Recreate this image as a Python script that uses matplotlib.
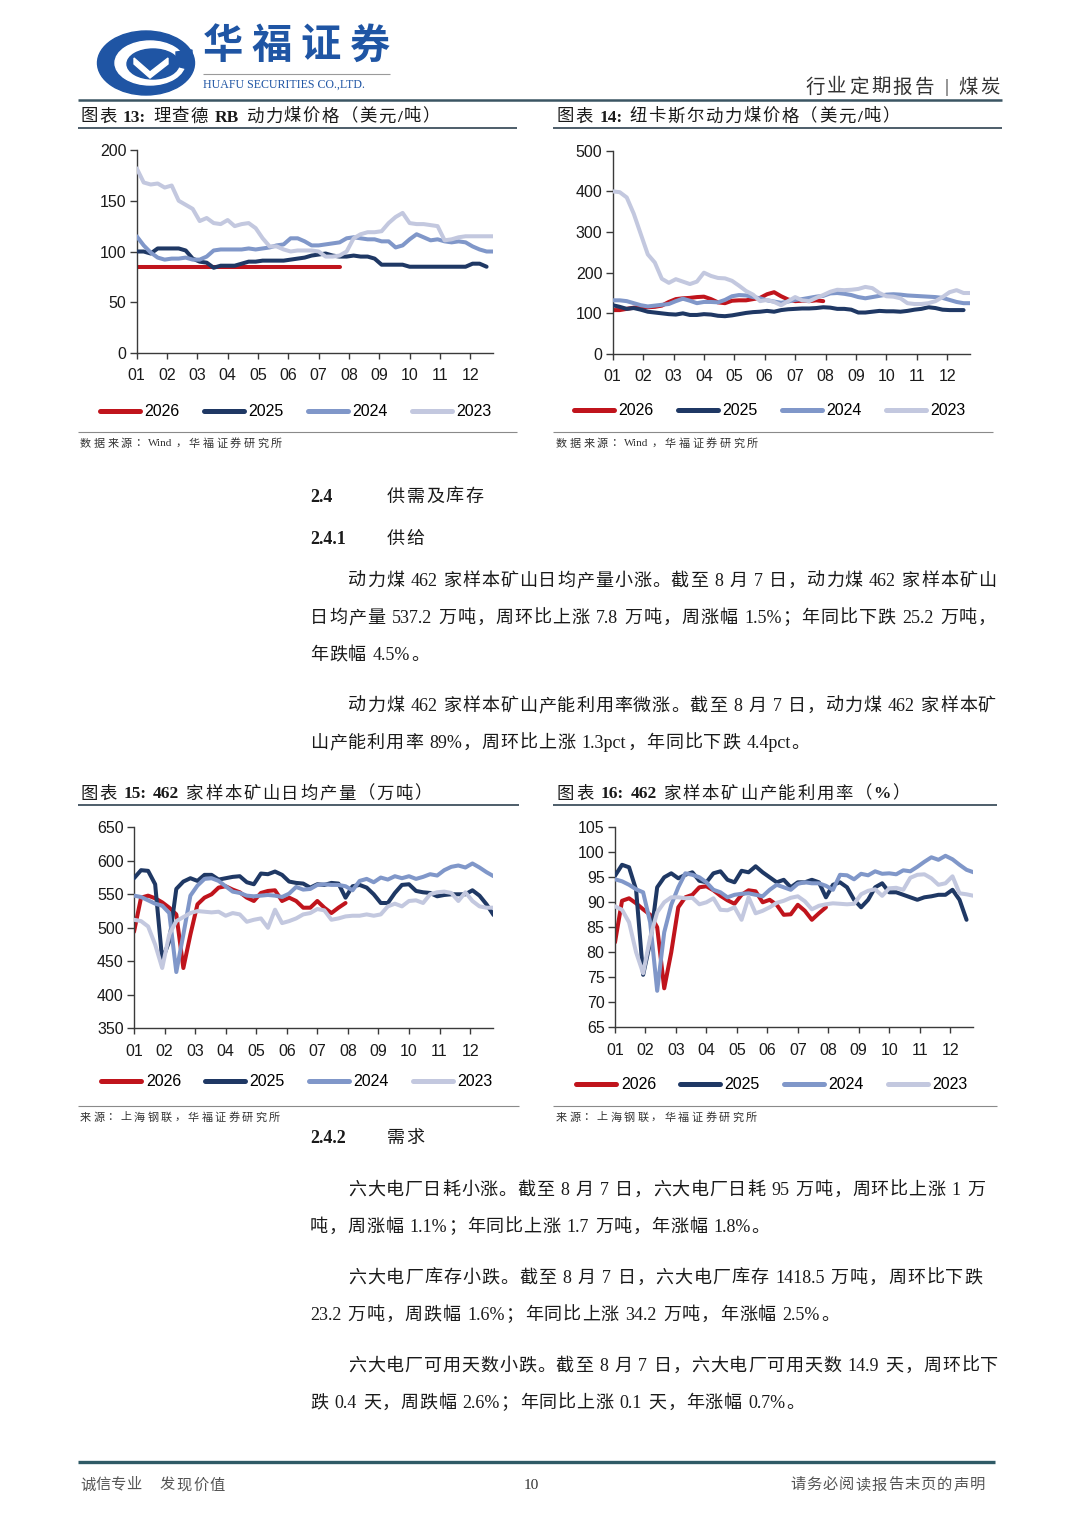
import re
import matplotlib
matplotlib.use('Agg')
import matplotlib.pyplot as plt
from matplotlib.patches import Ellipse, Polygon
import numpy as np

plt.rcParams['font.family'] = ['Liberation Sans', 'Noto Sans CJK SC']

# ---------------- data (weekly readings, month axis) ----------------
MONTHS = ['01', '02', '03', '04', '05', '06', '07', '08', '09', '10', '11', '12']
YEARS = ['2026', '2025', '2024', '2023']

# 图表13 理查德RB动力煤价格 (美元/吨)
rb_2026 = [85, 85, 85, 85, 85, 85, 85, 85, 85, 85, 85, 85, 85, 85, 85,
           85, 85, 85, 85, 85, 85, 85, 85, 85, 85, 85, 85, 85, 85, 85]
rb_2025 = [100, 100, 98, 103, 103, 103, 103, 101, 93, 90, 89, 84, 86, 86, 86, 88, 90,
           90, 91, 91, 91, 91, 92, 93, 94, 96, 97, 98, 96, 95, 95, 96, 95, 95, 93, 87,
           87, 87, 87, 85, 85, 85, 85, 85, 85, 85, 85, 85, 88, 88, 85]
rb_2024 = [115, 106, 99, 94, 92, 93, 93, 94, 92, 92, 95, 101, 102, 102, 102, 102, 103,
           102, 103, 104, 106, 107, 113, 113, 110, 106, 106, 107, 108, 109, 113, 114,
           113, 112, 112, 110, 110, 104, 106, 112, 117, 114, 111, 112, 110, 109, 110,
           109, 105, 102, 100, 100]
rb_2023 = [182, 168, 166, 167, 163, 165, 150, 146, 142, 130, 133, 128, 127, 131, 125,
           127, 128, 123, 113, 105, 105, 102, 100, 101, 101, 101, 100, 95, 95, 96, 100,
           113, 117, 119, 119, 120, 128, 134, 138, 128, 127, 127, 126, 125, 111, 112,
           114, 115, 115, 115, 115, 115]

# 图表14 纽卡斯尔动力煤价格 (美元/吨)
nc_2026 = [108, 108, 111, 114, 115, 115, 116, 119, 128, 135, 137, 138, 140, 141, 135,
           127, 125, 131, 132, 132, 135, 138, 147, 152, 142, 134, 130, 131, 130, 132, 130]
nc_2025 = [120, 116, 111, 113, 109, 104, 102, 100, 98, 97, 100, 96, 96, 98, 97, 94, 93,
           95, 98, 101, 103, 104, 106, 104, 108, 110, 111, 112, 112, 113, 115, 114, 111,
           111, 109, 102, 102, 104, 106, 105, 105, 104, 106, 109, 111, 115, 113, 109,
           108, 108, 108]
nc_2024 = [132, 132, 130, 125, 120, 117, 119, 121, 123, 130, 136, 131, 125, 128, 128,
           127, 133, 142, 145, 144, 140, 137, 132, 129, 126, 129, 133, 135, 138, 141,
           143, 149, 150, 148, 145, 140, 137, 140, 143, 146, 147, 146, 144, 143, 142,
           141, 140, 138, 133, 128, 125, 125]
nc_2023 = [400, 398, 385, 345, 295, 245, 225, 185, 175, 184, 178, 172, 178, 200, 192,
           187, 186, 180, 168, 155, 146, 130, 133, 128, 120, 130, 140, 132, 130, 138,
           145, 153, 158, 157, 158, 160, 165, 162, 150, 142, 141, 137, 125, 123, 123,
           125, 130, 140, 152, 157, 150, 150]

# 图表15 462家样本矿山日均产量 (万吨)
prod_2026 = [494, 545, 548, 544, 538, 530, 520, 440, 490, 535, 545, 550, 560, 562, 557,
             553, 545, 540, 552, 555, 556, 540, 545, 540, 530, 530, 540, 530, 522, 530, 537]
prod_2025 = [574, 586, 585, 565, 452, 480, 558, 569, 574, 570, 579, 579, 572, 574, 576,
             577, 568, 565, 581, 580, 584, 579, 569, 567, 566, 560, 565, 564, 567, 566,
             545, 562, 564, 560, 550, 537, 537, 552, 564, 565, 555, 553, 552, 547, 549,
             550, 550, 550, 556, 548, 535, 519]
prod_2024 = [548, 546, 541, 536, 533, 522, 434, 490, 548, 563, 573, 574, 570, 562, 554,
             552, 548, 547, 548, 549, 548, 546, 551, 561, 557, 558, 564, 565, 564, 564,
             562, 556, 570, 573, 568, 575, 572, 577, 574, 577, 573, 576, 580, 578, 586,
             591, 593, 590, 596, 590, 583, 577]
prod_2023 = [512, 510, 502, 475, 440, 490, 510, 516, 522, 525, 524, 523, 524, 518, 522,
             520, 509, 512, 514, 500, 527, 507, 510, 514, 520, 522, 528, 526, 512, 514,
             517, 518, 518, 520, 518, 520, 532, 536, 532, 540, 541, 537, 550, 553, 554,
             552, 540, 553, 540, 532, 530, 530]

# 图表16 462家样本矿山产能利用率 (%)
rate_2026 = [82, 90.3, 90.8, 89.8, 88.6, 87.5, 85, 72.8, 80, 89, 91, 91.5, 93, 93.2,
             92.4, 91.3, 90.4, 89.7, 91.5, 92.4, 92.2, 90, 90.5, 89.5, 87.5, 87.6, 89.5,
             88.3, 86.5, 87.8, 89]
rate_2025 = [95.3, 97.5, 97, 92.5, 75.5, 82, 93, 95, 95.8, 94.8, 95.5, 96, 94.3, 94,
             95.8, 96.2, 94.5, 94, 96.3, 96, 97.2, 96, 95, 94, 94.5, 93, 94, 94, 94.5,
             94, 91, 93.5, 94, 93, 90.5, 89, 90.5, 93, 93.8, 92, 92, 91.5, 91, 90.5, 91,
             91.2, 91.5, 91.5, 92.5, 90.5, 86.5]
rate_2024 = [94.6, 94.2, 93.5, 92.6, 92, 86, 72.3, 84, 89.5, 93, 95.8, 95.5, 95, 94,
             92.5, 92, 91, 91.5, 91.7, 91.8, 91.5, 91.2, 92.5, 93.5, 93, 92.5, 93.7, 94,
             93.8, 93.8, 93.3, 92.5, 95.5, 95.4, 94.6, 95.7, 95.4, 96.2, 95.7, 95.8,
             95.6, 96.4, 96.2, 97.1, 98.1, 99, 98.5, 99.3, 98.6, 97.5, 96.5, 96]
rate_2023 = [89.2, 88.5, 86, 80, 75.8, 83, 88, 90, 91, 91, 90.8, 90.9, 89.6, 90, 90.8,
             88.5, 88.4, 89, 86.5, 91, 87.8, 88.3, 89, 89.9, 90.3, 90.9, 91.2, 90.2,
             88.6, 89.3, 89.6, 89.8, 89.7, 89.6, 89.7, 91.6, 92.3, 92.6, 91.3, 92.8,
             92.9, 92.5, 94.9, 95.5, 95.6, 94.8, 93.5, 93.8, 95.2, 91.8, 91.6, 91.3]

COLORS = {'2026': '#c0141c', '2025': '#1f3864', '2024': '#8097c9', '2023': '#c3c8df'}

# ---------------- page ----------------
W, H = 1080, 1527
fig = plt.figure(figsize=(W / 100, H / 100), dpi=100)
bg = fig.add_axes([0, 0, 1, 1])
bg.set_xlim(0, W)
bg.set_ylim(H, 0)
bg.axis('off')

FAM = ['Liberation Serif', 'Noto Sans CJK SC']
TOK = re.compile(r'[A-Za-z0-9.%:/|\-]+|\s+|\S')


def spread(x0, y, s, size, right=None, gap=0.0, sp=0.3, bold_ascii=False, **kw):
    """place a line token by token, optionally stretched to the right edge"""
    r = fig.canvas.get_renderer()
    em = size * 100 / 72
    items = []
    for t in TOK.findall(s):
        if t.isspace():
            items.append((None, sp * em))
            continue
        cjk = ord(t[0]) > 0x2E80
        extra = {'weight': 'bold'} if (bold_ascii and not cjk) else {}
        tx = bg.text(0, y + 1.5, t, fontsize=size, ha='left', va='center', family=FAM,
                     **extra, **kw)
        w = em if cjk else tx.get_window_extent(r).width
        items.append((tx, w))
    n_vis = sum(1 for tx, _ in items if tx is not None)
    if right is not None and n_vis > 1:
        gap = (right - x0 - sum(w for _, w in items)) / (n_vis - 1)
    x = x0
    for tx, w in items:
        if tx is None:
            x += w
            continue
        tx.set_x(x)
        x += w + gap
    return gap


def hline(y, x0, x1, lw, color):
    bg.plot([x0, x1], [y, y], color=color, lw=lw, solid_capstyle='butt')


# header: logo
bg.add_patch(Ellipse((146, 63), 97, 64, color='#1f55a4'))
bg.add_patch(Ellipse((150, 63), 70, 44, color='white'))
bg.add_patch(Ellipse((153, 64), 52, 30, color='#1f55a4'))
bg.add_patch(Polygon([[134, 58], [150, 72], [168, 58], [168, 64], [150, 78], [134, 64]],
                     closed=True, color='white'))
bg.add_patch(Polygon([[176, 52], [192, 50], [192, 70], [176, 66]], closed=True,
                     color='#1f55a4'))
spread(203, 46, '华福证券', 29, right=390, color='#1f55a4', weight='bold')
hline(74, 203, 390, 0.8, '#9a9a9a')
bg.text(203, 85, 'HUAFU SECURITIES CO.,LTD.', fontsize=8.6, family='Liberation Serif',
        color='#1f55a4', ha='left', va='center')
spread(805, 86, '行业定期报告 | 煤炭', 14, right=1000, sp=0.4, color='#333333')
hline(100, 78, 1002, 1.8, '#3b5563')

# chart titles / sources
TITLE_C = '#1a1a1a'
spread(80, 116, '图表 13: 理查德 RB 动力煤价格（美元/吨）', 12.5, right=440,
       bold_ascii=True, color=TITLE_C)
spread(556, 116, '图表 14: 纽卡斯尔动力煤价格（美元/吨）', 12.5, right=900,
       bold_ascii=True, color=TITLE_C)
hline(128, 78, 517, 1.4, '#4d5d69')
hline(128, 553, 1002, 1.4, '#4d5d69')
hline(432, 78, 517, 0.8, '#8a8a8a')
hline(432, 553, 993, 0.8, '#8a8a8a')
spread(80, 442, '数据来源：Wind，华福证券研究所', 8, right=282, color='#333333')
spread(556, 442, '数据来源：Wind，华福证券研究所', 8, right=758, color='#333333')

spread(80, 793, '图表 15: 462 家样本矿山日均产量（万吨）', 12.5, right=432,
       bold_ascii=True, color=TITLE_C)
spread(557, 793, '图表 16: 462 家样本矿山产能利用率（%）', 12.5, right=910,
       bold_ascii=True, color=TITLE_C)
hline(805, 78, 519, 1.4, '#4d5d69')
hline(805, 553, 997, 1.4, '#4d5d69')
hline(1106, 78, 519, 0.8, '#8a8a8a')
hline(1106, 553, 997, 0.8, '#8a8a8a')
spread(80, 1116, '来源：上海钢联，华福证券研究所', 8, right=280, color='#333333')
spread(556, 1116, '来源：上海钢联，华福证券研究所', 8, right=757, color='#333333')

# body text
TXT = '#1a1a1a'
for y, num, head in [(496, '2.4', '供需及库存'), (538, '2.4.1', '供给'), (1137, '2.4.2', '需求')]:
    bg.text(310, y + 1.5, num, fontsize=13, family='Liberation Serif', weight='bold',
            ha='left', va='center', color=TXT)
    spread(387, y, head, 13, gap=1.5, color=TXT)

paragraphs = [
    (580, 37, [('动力煤 462 家样本矿山日均产量小涨。截至 8 月 7 日，动力煤 462 家样本矿山', 996),
               ('日均产量 537.2 万吨，周环比上涨 7.8 万吨，周涨幅 1.5%；年同比下跌 25.2 万吨，', 996),
               ('年跌幅 4.5%。', None)]),
    (705, 37, [('动力煤 462 家样本矿山产能利用率微涨。截至 8 月 7 日，动力煤 462 家样本矿', 996),
               ('山产能利用率 89%，周环比上涨 1.3pct，年同比下跌 4.4pct。', None)]),
    (1189, 37, [('六大电厂日耗小涨。截至 8 月 7 日，六大电厂日耗 95 万吨，周环比上涨 1 万', 985),
                ('吨，周涨幅 1.1%；年同比上涨 1.7 万吨，年涨幅 1.8%。', None)]),
    (1277, 37, [('六大电厂库存小跌。截至 8 月 7 日，六大电厂库存 1418.5 万吨，周环比下跌', 982),
                ('23.2 万吨，周跌幅 1.6%；年同比上涨 34.2 万吨，年涨幅 2.5%。', None)]),
    (1365, 37, [('六大电厂可用天数小跌。截至 8 月 7 日，六大电厂可用天数 14.9 天，周环比下', 998),
                ('跌 0.4 天，周跌幅 2.6%；年同比上涨 0.1 天，年涨幅 0.7%。', None)]),
]
for y0, step, lines in paragraphs:
    g = 2.0
    for k, (s, right) in enumerate(lines):
        x0 = 348 if k == 0 else 310
        g = spread(x0, y0 + k * step, s, 13, right=right, gap=g, color=TXT)

# footer
hline(1462, 78, 995, 2.4, '#2f5a66')
spread(80, 1484, '诚信专业', 11, right=141, color='#555555')
spread(160, 1484, '发现价值', 11, right=225, color='#555555')
bg.text(531, 1485.5, '10', fontsize=11, family='Liberation Serif', ha='center',
        va='center', color='#333333')
spread(790, 1484, '请务必阅读报告末页的声明', 11, right=985, color='#555555')


# ---------------- charts ----------------
def chart(box, series, ylim, yticks, leg_x, leg_y):
    left, top, right, bottom = box
    ax = fig.add_axes([left / W, 1 - bottom / H, (right - left) / W, (bottom - top) / H])
    handles = []
    for year in YEARS:
        vals = series[year]
        x = np.arange(len(vals)) * 12 / 52
        ln, = ax.plot(x, vals, color=COLORS[year], lw=2.9, label=year,
                      solid_joinstyle='round', solid_capstyle='round')
        handles.append(ln)
    # 2026 drawn first, 2023 on top (Excel series order)
    for z, ln in enumerate(handles):
        ln.set_zorder(2 + z)
    ax.set_xlim(0, 11.75)
    ax.set_ylim(*ylim)
    ax.set_yticks(yticks)
    ax.set_xticks(range(12))
    ax.set_xticklabels(MONTHS)
    for s in ('top', 'right'):
        ax.spines[s].set_visible(False)
    for s in ('left', 'bottom'):
        ax.spines[s].set_color('#3a3a3a')
        ax.spines[s].set_linewidth(1.0)
    ax.tick_params(axis='y', length=5, width=1, pad=2.5, labelsize=11.5,
                   color='#3a3a3a', labelcolor='#1a1a1a')
    ax.tick_params(axis='x', length=4, width=1, pad=7, labelsize=11.5,
                   color='#3a3a3a', labelcolor='#1a1a1a')
    ax.set_facecolor('none')
    leg = ax.legend(handles=handles, loc='center', bbox_to_anchor=(leg_x, leg_y),
                    ncol=4, frameon=False, fontsize=11.5, handlelength=2.5,
                    handletextpad=0.3, columnspacing=1.5)
    for h in leg.legend_handles:
        h.set_linewidth(3.6)
    return ax


chart((136.7, 150, 493, 353), {'2026': rb_2026, '2025': rb_2025, '2024': rb_2024, '2023': rb_2023},
      (0, 200), [0, 50, 100, 150, 200], 0.447, -0.29)
chart((612.7, 150.7, 970, 354), {'2026': nc_2026, '2025': nc_2025, '2024': nc_2024, '2023': nc_2023},
      (0, 500), [0, 100, 200, 300, 400, 500], 0.44, -0.28)
chart((134, 827.3, 493, 1028.3), {'2026': prod_2026, '2025': prod_2025, '2024': prod_2024, '2023': prod_2023},
      (350, 650), [350, 400, 450, 500, 550, 600, 650], 0.454, -0.267)
chart((615, 827.3, 973, 1027.3), {'2026': rate_2026, '2025': rate_2025, '2024': rate_2024, '2023': rate_2023},
      (65, 105), [65, 70, 75, 80, 85, 90, 95, 100, 105], 0.4385, -0.288)

fig.savefig('out.png', dpi=100, facecolor='white')
